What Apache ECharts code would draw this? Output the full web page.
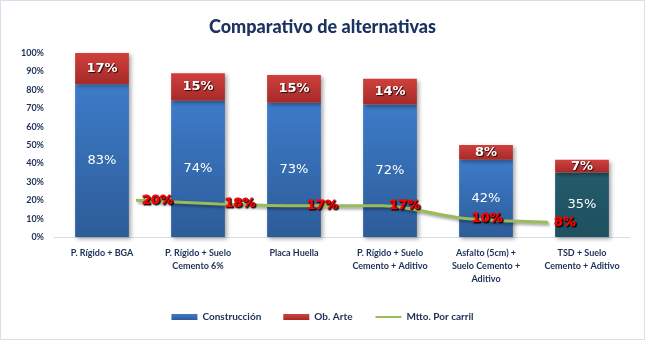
<!DOCTYPE html>
<html>
<head>
<meta charset="utf-8">
<script src="https://cdn.jsdelivr.net/npm/echarts@6/dist/echarts.min.js"></script>
<style>
  html, body { margin: 0; padding: 0; background: #fff; }
  #chart { width: 643px; height: 338px; border: 1px solid #d5e0ec; }
</style>
</head>
<body>
<div id="chart"></div>
<script>
const categories = [
  'P. Rígido + BGA',
  'P. Rígido + Suelo\nCemento 6%',
  'Placa Huella',
  'P. Rígido + Suelo\nCemento + Aditivo',
  'Asfalto (5cm) +\nSuelo Cemento +\nAditivo',
  'TSD + Suelo\nCemento + Aditivo'
];
const construccion = [83, 74, 73, 72, 42, 35];
const obArte = [17, 15, 15, 14, 8, 7];
const mttoCarril = [20, 18, 17, 17, 10, 8];
const yTicks = [0, 100, 10];

const navy = '#1b2f55';
const blueGrad = new echarts.graphic.LinearGradient(0, 0, 0, 1, [
  { offset: 0, color: '#3d7bc9' },
  { offset: 1, color: '#2d5c98' }
]);
const redGrad = new echarts.graphic.LinearGradient(0, 0, 0, 1, [
  { offset: 0, color: '#d0403c' },
  { offset: 1, color: '#a52a28' }
]);
const tealGrad = new echarts.graphic.LinearGradient(0, 0, 0, 1, [
  { offset: 0, color: '#235c6c' },
  { offset: 1, color: '#1e5060' }
]);

const chart = echarts.init(document.getElementById('chart'));

const consData = construccion.map((v, i) => ({
  value: v,
  itemStyle: { color: i === construccion.length - 1 ? tealGrad : blueGrad }
}));

chart.setOption({
  animation: false,
  title: {
    text: 'Comparativo de alternativas',
    left: 'center',
    top: 12,
    textStyle: { fontFamily: 'Lato', fontWeight: 900, fontSize: 18, color: '#1c3360' }
  },
  legend: {
    bottom: 12,
    left: 'center',
    itemWidth: 26,
    itemHeight: 6,
    itemGap: 22,
    textStyle: { fontFamily: 'Lato', fontSize: 10, fontWeight: 'bold', color: navy },
    data: [
      { name: 'Construcción', icon: 'rect' },
      { name: 'Ob. Arte', icon: 'rect' },
      { name: 'Mtto. Por carril', itemStyle: { opacity: 0 } }
    ]
  },
  grid: [
    { left: 53, right: 14, top: 52, bottom: 102 },
    { left: 135, right: 96, top: 52, bottom: 102 }
  ],
  xAxis: [
    {
      type: 'category',
      gridIndex: 0,
      data: categories,
      axisLine: { show: true, lineStyle: { color: '#d5dfea' } },
      axisTick: { show: false },
      axisLabel: {
        interval: 0,
        margin: 10,
        fontFamily: 'Lato',
        fontSize: 9,
        fontWeight: 'bold',
        color: navy,
        lineHeight: 13
      }
    },
    {
      type: 'category',
      gridIndex: 1,
      data: categories,
      boundaryGap: false,
      show: false
    }
  ],
  yAxis: [
    {
      type: 'value',
      gridIndex: 0,
      min: yTicks[0],
      max: yTicks[1],
      interval: yTicks[2],
      splitLine: { show: false },
      axisLine: { show: false },
      axisTick: { show: false },
      axisLabel: {
        formatter: '{value}%',
        margin: 10,
        fontFamily: 'Lato',
        fontSize: 9,
        fontWeight: 'bold',
        color: navy
      }
    },
    {
      type: 'value',
      gridIndex: 1,
      min: yTicks[0],
      max: yTicks[1],
      show: false
    }
  ],
  series: [
    {
      name: 'Construcción',
      type: 'bar',
      stack: 'total',
      barWidth: '56%',
      data: consData,
      itemStyle: {
        color: blueGrad,
        shadowColor: 'rgba(0,0,0,0.35)',
        shadowBlur: 4,
        shadowOffsetX: 2,
        shadowOffsetY: 2
      },
      label: {
        show: true,
        position: 'inside',
        formatter: '{c}%',
        fontFamily: 'Verdana, DejaVu Sans',
        fontSize: 13,
        color: '#ffffff'
      }
    },
    {
      name: 'Ob. Arte',
      type: 'bar',
      stack: 'total',
      data: obArte,
      itemStyle: {
        color: redGrad,
        shadowColor: 'rgba(0,0,0,0.35)',
        shadowBlur: 4,
        shadowOffsetX: 2,
        shadowOffsetY: 2
      },
      label: {
        show: true,
        position: 'inside',
        formatter: '{c}%',
        fontFamily: 'DejaVu Sans',
        fontSize: 13,
        fontWeight: 'bold',
        color: '#ffffff',
        textShadowColor: 'rgba(0,0,0,0.8)',
        textShadowBlur: 1,
        textShadowOffsetX: 1,
        textShadowOffsetY: 1
      }
    },
    {
      name: 'Mtto. Por carril',
      type: 'line',
      xAxisIndex: 1,
      yAxisIndex: 1,
      data: mttoCarril,
      smooth: 0.25,
      symbol: 'circle',
      symbolSize: 0,
      showSymbol: true,
      zlevel: 1,
      z: 5,
      lineStyle: {
        color: '#9bbb59',
        width: 3,
        shadowColor: 'rgba(0,0,0,0.4)',
        shadowBlur: 3,
        shadowOffsetX: 2,
        shadowOffsetY: 2
      },
      itemStyle: { color: '#9bbb59' },
      label: {
        show: true,
        position: 'right',
        distance: 6,
        formatter: '{c}%',
        fontFamily: 'DejaVu Sans',
        fontSize: 13,
        fontWeight: 'bold',
        color: '#ff0000',
        textBorderColor: '#ee0000',
        textBorderWidth: 0.8,
        textShadowColor: 'rgba(0,0,0,0.85)',
        textShadowBlur: 1,
        textShadowOffsetX: 1,
        textShadowOffsetY: 1
      }
    }
  ]
});
</script>
</body>
</html>
